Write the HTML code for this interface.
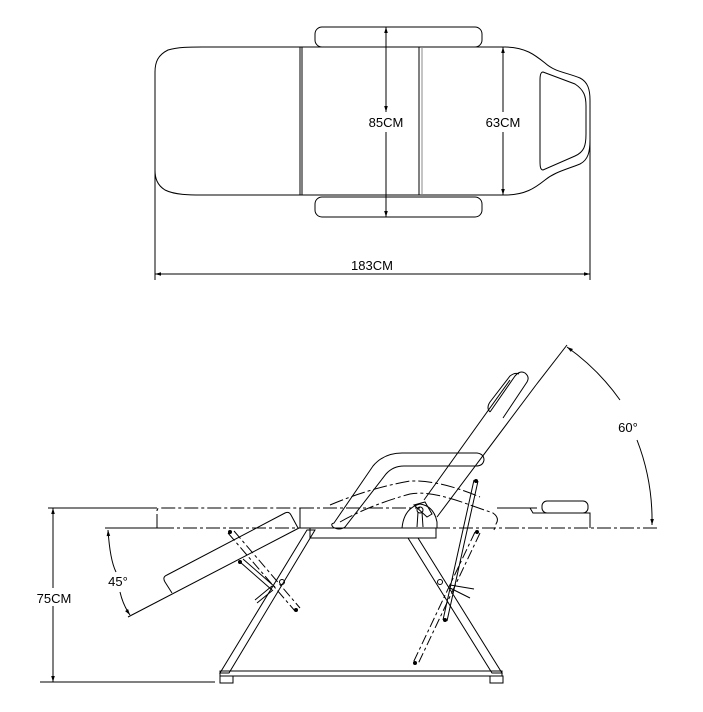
<!DOCTYPE html>
<html><head><meta charset="utf-8"><style>
html,body{margin:0;padding:0;background:#fff;}
svg{display:block;}
text{font-family:"Liberation Sans",sans-serif;font-size:13px;fill:#000;}
</style></head><body>
<svg width="703" height="712" viewBox="0 0 703 712" xmlns="http://www.w3.org/2000/svg">
<defs>
<marker id="a" viewBox="0 0 10 10" refX="10" refY="5" markerWidth="9" markerHeight="6" orient="auto-start-reverse" markerUnits="userSpaceOnUse"><path d="M0,2 L10,5 L0,8 z" fill="#000"/></marker>
</defs>
<g fill="none" stroke="#000" stroke-width="1">
<!-- TOP VIEW -->
<rect x="315" y="27" width="167" height="20" rx="7"/>
<rect x="315" y="197" width="167" height="20" rx="7"/>
<path d="M202,47 L300,47 L505,47 C525,47 535,55 545,63 C555,72 565,72 580,78 C588,82 590,90 590,100 L590,140 C590,152 588,160 580,164 C565,170 555,172 545,180 C535,188 525,195 505,195 L300,195 L202,195 C190,195 175,195 165,190 C157,185 155,178 155,170 L155,72 C155,62 158,55 168,50 C178,47 190,47 202,47 Z"/>
<line x1="300" y1="47" x2="300" y2="195"/><line x1="302" y1="47" x2="302" y2="195"/>
<line x1="419" y1="47" x2="419" y2="195"/><line x1="422" y1="47" x2="422" y2="195" stroke="#888"/>
<path d="M543,72 L575,84 C584,90 586,96 586,106 L586,134 C586,146 584,152 575,156 L543,170 C540,170 540,165 540,160 L540,80 C540,74 541,72 543,72 Z"/>
<line x1="386" y1="27" x2="386" y2="112" marker-end="url(#a)" marker-start="url(#a)" />
<line x1="386" y1="132" x2="386" y2="217" marker-end="url(#a)"/>
<line x1="503" y1="47" x2="503" y2="112" marker-start="url(#a)"/>
<line x1="503" y1="132" x2="503" y2="195" marker-end="url(#a)"/>
<line x1="155" y1="130" x2="155" y2="280"/>
<line x1="590" y1="140" x2="590" y2="280"/>
<line x1="155" y1="274" x2="590" y2="274" marker-start="url(#a)" marker-end="url(#a)"/>

<!-- SIDE VIEW -->
<line x1="48" y1="508" x2="157" y2="508"/>
<line x1="40" y1="682" x2="215" y2="682"/>
<line x1="53" y1="508" x2="53" y2="588" marker-start="url(#a)"/>
<line x1="53" y1="606" x2="53" y2="682" marker-end="url(#a)"/>
<line x1="105" y1="528" x2="160" y2="528"/>
<line x1="160" y1="528" x2="660" y2="528" stroke-dasharray="14,3,3,3"/>
<!-- 45 arc -->
<path d="M108,530 Q110,560 116,572" marker-start="url(#a)"/>
<path d="M120,592 Q123,605 130,615" marker-end="url(#a)"/>
<line x1="299" y1="528" x2="128" y2="617"/>
<!-- horizontal leg section ghost -->
<path d="M157,528 L157,511 Q157,508 160,508 L300,508" stroke-dasharray="14,3,3,3"/>
<line x1="300" y1="508" x2="300" y2="528"/>
<!-- tilted leg pad -->
<path d="M172,593 L165,582 Q162,577 167,575 L285,513 Q289,511 291,515 L298,528"/>
<!-- seat -->
<path d="M300,508 L420,508" stroke-dasharray="14,3,3,3"/>
<rect x="310" y="528" width="126" height="10"/>
<path d="M402,528 Q404,508 420,504 Q434,506 437,522 L437,528"/>
<circle cx="420" cy="510" r="3"/>
<path d="M418,512 L417,527 M422,512 L423,527"/>
<path d="M414,505 L425,502 L432,514 L427,517 Z"/>
<!-- armrest -->
<path d="M334,523 L373,466 Q384,453 402,453 L477,453 Q484,454 484,460 Q483,466 476,466 L404,466 Q393,466 386,474 L345,527 Q339,531 333,527 Q330,524 334,523 Z"/>
<!-- ghost recline -->
<path d="M340,522 Q370,505 410,494 Q430,490 470,505 L493,513 Q500,518 496,524 L494,530" stroke-dasharray="14,3,3,3"/>
<path d="M330,505 Q370,488 410,481 Q440,480 480,497" stroke-dasharray="14,3,3,3"/>
<!-- backrest -->
<line x1="437" y1="517" x2="536" y2="385"/>
<line x1="424" y1="500" x2="510" y2="380"/>
<line x1="536" y1="385" x2="567" y2="345"/>
<path d="M490,412 L515,376 Q520,370 525,373 Q530,377 527,382 L503,418"/>
<path d="M490,412 Q486,408 490,402 L510,376 Q515,372 519,374"/>
<!-- 60 arc -->
<path d="M567,347 A222,222 0 0 1 620,400" marker-start="url(#a)"/>
<path d="M637,440 A222,222 0 0 1 652,525" marker-end="url(#a)"/>
<!-- head section -->
<path d="M497,508 L530,508 L533,513 L590,513 L590,528" />
<rect x="542" y="501" width="46" height="12" rx="5"/>
<line x1="500" y1="508" x2="540" y2="508" stroke-dasharray="14,3,3,3"/>
<!-- legs -->
<polygon points="307,530 315,530 229,673 220,673"/>
<polygon points="408,538 418,538 502,673 492,673"/>
<rect x="220" y="671" width="282" height="5"/>
<rect x="220" y="676" width="13" height="7"/>
<rect x="490" y="676" width="13" height="7"/>
<circle cx="282" cy="582" r="2.5"/>
<circle cx="440" cy="582" r="2.5"/>
<!-- struts left -->
<path d="M228,533 L295,611 M234,531 L300,608" stroke-dasharray="10,3,3,3"/>
<path d="M240,562 L272,590 M243,559 L275,587"/>
<path d="M255,600 L272,586 M257,603 L273,590"/>
<!-- struts right -->
<path d="M475,532 L413,663 M480,533 L418,664" stroke-dasharray="10,3,3,3"/>
<path d="M474,480 L443,620 M478,481 L447,621"/>
<path d="M450,585 L474,589 M450,588 L470,598"/>
</g>
<g fill="#000">
<circle cx="230" cy="532" r="2"/><circle cx="240" cy="562" r="2"/><circle cx="296" cy="610" r="2"/>
<circle cx="477" cy="532" r="2"/><circle cx="415" cy="663" r="2"/><circle cx="476" cy="481" r="2"/><circle cx="445" cy="620" r="2"/>
</g>
<g>
<rect x="364" y="114" width="44" height="16" fill="#fff"/>
<text x="386" y="127" text-anchor="middle">85CM</text>
<rect x="481" y="114" width="44" height="16" fill="#fff"/>
<text x="503" y="127" text-anchor="middle">63CM</text>
<text x="372" y="270" text-anchor="middle">183CM</text>
<rect x="32" y="590" width="44" height="16" fill="#fff"/>
<text x="54" y="603" text-anchor="middle">75CM</text>
<text x="118" y="586" text-anchor="middle">45°</text>
<text x="628" y="432" text-anchor="middle">60°</text>
</g>
</svg>
</body></html>
